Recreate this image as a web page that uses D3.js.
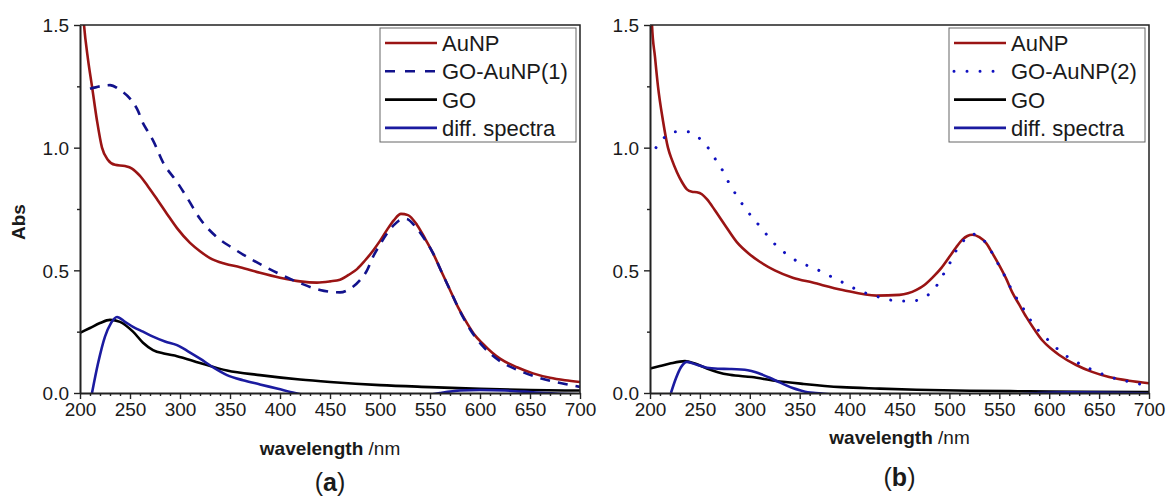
<!DOCTYPE html>
<html>
<head>
<meta charset="utf-8">
<script src="https://cdn.jsdelivr.net/npm/d3@7"></script>
<style>
  body { margin: 0; background: #fff; }
  svg { display: block; font-family: "Liberation Sans", Arial, sans-serif; }
</style>
</head>
<body>
<svg id="chart" width="1166" height="497"></svg>
<script>
// wavelength (nm), absorbance
var auA = [[200,1.75],[204,1.5],[208,1.36],[212,1.25],[217,1.11],[222,1.0],[228,0.95],[235,0.93],[245,0.925],[252,0.915],[260,0.885],[268,0.842],[277,0.79],[287,0.73],[297,0.672],[310,0.612],[320,0.578],[330,0.55],[345,0.527],[360,0.513],[380,0.49],[400,0.47],[420,0.455],[437,0.45],[450,0.455],[460,0.462],[470,0.485],[477,0.505],[485,0.54],[493,0.58],[500,0.62],[507,0.665],[514,0.705],[521,0.73],[528,0.725],[537,0.685],[545,0.63],[553,0.57],[562,0.49],[570,0.42],[578,0.35],[587,0.285],[595,0.235],[603,0.2],[612,0.165],[620,0.14],[637,0.105],[653,0.08],[670,0.062],[685,0.052],[700,0.045]];
var goAu1 = [[210,1.24],[220,1.25],[230,1.255],[240,1.235],[250,1.2],[258,1.15],[263,1.1],[268,1.065],[273,1.03],[283,0.94],[297,0.86],[308,0.79],[320,0.71],[337,0.635],[353,0.59],[377,0.532],[397,0.49],[420,0.448],[440,0.42],[460,0.41],[470,0.425],[480,0.46],[487,0.5],[493,0.555],[500,0.605],[507,0.65],[514,0.685],[520,0.705],[526,0.71],[537,0.67],[545,0.625],[553,0.57],[562,0.49],[570,0.42],[578,0.35],[587,0.28],[595,0.23],[603,0.19],[612,0.155],[620,0.13],[637,0.095],[653,0.07],[670,0.05],[685,0.037],[700,0.025]];
var goA = [[200,0.245],[210,0.265],[220,0.285],[230,0.298],[240,0.29],[253,0.25],[263,0.205],[273,0.175],[285,0.16],[297,0.15],[320,0.122],[347,0.092],[380,0.073],[420,0.055],[450,0.045],[500,0.032],[550,0.024],[600,0.017],[650,0.012],[700,0.01]];
var diffA = [[212,0],[218,0.12],[225,0.23],[231,0.285],[237,0.31],[245,0.29],[253,0.27],[263,0.25],[273,0.23],[285,0.21],[297,0.195],[308,0.17],[320,0.14],[333,0.105],[347,0.073],[363,0.052],[380,0.035],[398,0.017],[415,0],[440,-0.02],[500,-0.03],[540,-0.015],[560,0],[580,0.01],[600,0.012],[625,0.01],[650,0.004],[665,0],[700,-0.005]];

var auB = [[200,1.75],[202,1.5],[205,1.37],[208,1.25],[213,1.11],[218,1.0],[222,0.95],[227,0.9],[232,0.86],[237,0.83],[242,0.82],[247,0.818],[252,0.81],[257,0.79],[265,0.745],[275,0.685],[287,0.615],[300,0.565],[310,0.535],[325,0.5],[343,0.47],[363,0.45],[393,0.42],[427,0.397],[450,0.4],[467,0.42],[475,0.44],[483,0.47],[492,0.51],[500,0.555],[507,0.595],[513,0.625],[518,0.64],[523,0.645],[530,0.635],[537,0.61],[543,0.57],[550,0.52],[557,0.465],[563,0.41],[570,0.36],[577,0.31],[585,0.26],[593,0.215],[602,0.18],[610,0.155],[627,0.114],[643,0.086],[660,0.065],[680,0.05],[700,0.04]];
var goAu2 = [[206,1.0],[214,1.04],[224,1.065],[237,1.065],[249,1.04],[259,0.995],[266,0.95],[273,0.905],[279,0.857],[286,0.81],[295,0.755],[310,0.68],[318,0.64],[328,0.595],[339,0.56],[349,0.533],[362,0.513],[374,0.49],[386,0.465],[397,0.443],[410,0.416],[422,0.4],[435,0.385],[448,0.375],[462,0.375],[475,0.39],[486,0.43],[493,0.477],[500,0.526],[506,0.575],[514,0.62],[523,0.648],[530,0.64],[536,0.615],[543,0.57],[549,0.525],[556,0.473],[562,0.424],[569,0.375],[577,0.326],[584,0.28],[594,0.236],[603,0.2],[613,0.163],[624,0.134],[637,0.106],[648,0.086],[661,0.065],[673,0.053],[686,0.04],[700,0.03]];
var goB = [[200,0.10],[210,0.11],[220,0.12],[235,0.13],[245,0.12],[257,0.10],[268,0.085],[280,0.074],[302,0.065],[325,0.05],[354,0.037],[392,0.024],[430,0.018],[467,0.013],[520,0.009],[580,0.007],[640,0.005],[700,0.004]];
var diffB = [[221,0],[226,0.06],[231,0.105],[237,0.127],[247,0.115],[257,0.103],[268,0.099],[280,0.098],[298,0.093],[306,0.085],[313,0.074],[320,0.062],[328,0.047],[336,0.032],[343,0.02],[351,0.01],[358,0.003],[366,0],[400,-0.01],[550,-0.01],[590,0],[620,0.003],[650,0.002],[680,0],[700,-0.002]];

var namesA = ["AuNP", "GO-AuNP(1)", "GO", "diff. spectra"];
var namesB = ["AuNP", "GO-AuNP(2)", "GO", "diff. spectra"];
var xMajor = d3.range(200, 701, 50);
var xMinor = d3.range(200, 701, 10).filter(function(d){ return d % 50 !== 0; });
var yMajor = [0, 0.5, 1.0, 1.5];
var yMinor = [0.25, 0.75, 1.25];

var svg = d3.select("#chart");
var plotTop = 25, plotBottom = 393;

var styles = [
  {color: "#9a1414", dash: null, width: 2.6},
  {color: "#12128c", dash: "10,8", width: 2.6},
  {color: "#000000", dash: null, width: 2.6},
  {color: "#1b1ba0", dash: null, width: 2.6}
];
var dotted = {color: "#1010c0", dash: "0.01,13", width: 3, cap: "round"};

function panel(id, left, right, series, names, secondStyle, yLabel, xLabelY, tag, tagY) {
  var x = d3.scaleLinear().domain([200, 700]).range([left, right]);
  var y = d3.scaleLinear().domain([0, 1.5]).range([plotBottom, plotTop]);
  var g = svg.append("g");
  var st = styles.slice(); st[1] = secondStyle;

  g.append("clipPath").attr("id", "clip" + id).append("rect")
    .attr("x", left).attr("y", plotTop).attr("width", right - left).attr("height", plotBottom - plotTop);

  var line = d3.line().x(function(d){ return x(d[0]); }).y(function(d){ return y(d[1]); })
    .curve(d3.curveMonotoneX);

  // order: GO, diff, AuNP, GO-AuNP
  [2, 3, 0, 1].forEach(function(i) {
    g.append("path").datum(series[i])
      .attr("clip-path", "url(#clip" + id + ")")
      .attr("d", line)
      .attr("fill", "none")
      .attr("stroke", st[i].color)
      .attr("stroke-width", st[i].width)
      .attr("stroke-dasharray", st[i].dash)
      .attr("stroke-linecap", st[i].cap || "butt");
  });

  // frame
  g.append("path").attr("d", "M" + left + "," + plotTop + "H" + right + "V" + plotBottom)
    .attr("fill", "none").attr("stroke", "#222").attr("stroke-width", 1.5);

  g.append("g").attr("transform", "translate(0," + plotBottom + ")")
    .call(d3.axisBottom(x).tickValues(xMajor).tickSize(6).tickSizeOuter(0).tickPadding(4));
  g.append("g").attr("transform", "translate(0," + plotBottom + ")")
    .call(d3.axisBottom(x).tickValues(xMinor).tickSize(3).tickFormat("").tickSizeOuter(0))
    .select(".domain").remove();
  var ay = g.append("g").attr("transform", "translate(" + left + ",0)")
    .call(d3.axisLeft(y).tickValues(yMajor).tickSize(6).tickSizeOuter(0).tickPadding(5)
      .tickFormat(d3.format(".1f")));
  g.append("g").attr("transform", "translate(" + left + ",0)")
    .call(d3.axisLeft(y).tickValues(yMinor).tickSize(3).tickFormat("").tickSizeOuter(0))
    .select(".domain").remove();

  g.selectAll(".domain").attr("stroke", "#222").attr("stroke-width", 2);
  g.selectAll(".tick line").attr("stroke", "#222").attr("stroke-width", 1.4);
  g.selectAll(".tick text").attr("font-size", 19).attr("fill", "#1a1a1a")
    .attr("font-family", "'Liberation Sans', Arial, sans-serif");
  ay.selectAll(".tick text").attr("dy", "0.36em");

  var cx = (left + right) / 2;
  var xl = g.append("text").attr("x", cx).attr("y", xLabelY).attr("text-anchor", "middle")
    .attr("font-size", 19).attr("fill", "#1a1a1a");
  xl.append("tspan").attr("font-weight", "bold").text("wavelength");
  xl.append("tspan").text(" /nm");

  var tg = g.append("text").attr("x", cx).attr("y", tagY).attr("text-anchor", "middle")
    .attr("font-size", 25).attr("fill", "#1a1a1a");
  tg.append("tspan").text("(");
  tg.append("tspan").attr("font-weight", "bold").text(tag);
  tg.append("tspan").text(")");

  if (yLabel) {
    g.append("text").attr("transform", "translate(25,222) rotate(-90)")
      .attr("text-anchor", "middle").attr("font-size", 19).attr("font-weight", "bold")
      .attr("fill", "#1a1a1a").text(yLabel);
  }

  // legend
  var lx = right - 200, ly = 28;
  var lg = g.append("g");
  lg.append("rect").attr("x", lx).attr("y", ly).attr("width", 196).attr("height", 114)
    .attr("fill", "#fff").attr("stroke", "#666").attr("stroke-width", 1);
  names.forEach(function(n, i) {
    var yy = ly + 15 + i * 28.3;
    lg.append("line").attr("x1", lx + 5).attr("x2", lx + 57).attr("y1", yy).attr("y2", yy)
      .attr("stroke", st[i].color).attr("stroke-width", st[i].width)
      .attr("stroke-dasharray", i === 1 && id === "a" ? "10,10" : st[i].dash)
      .attr("stroke-linecap", st[i].cap || "butt");
    lg.append("text").attr("x", lx + 62).attr("y", yy + 8).attr("font-size", 22)
      .attr("fill", "#1a1a1a").text(n);
  });
}

panel("a", 80, 580, [auA, goAu1, goA, diffA], namesA, styles[1], "Abs", 455, "a", 491);
panel("b", 650, 1149, [auB, goAu2, goB, diffB], namesB, dotted, null, 444, "b", 486);
</script>
</body>
</html>
